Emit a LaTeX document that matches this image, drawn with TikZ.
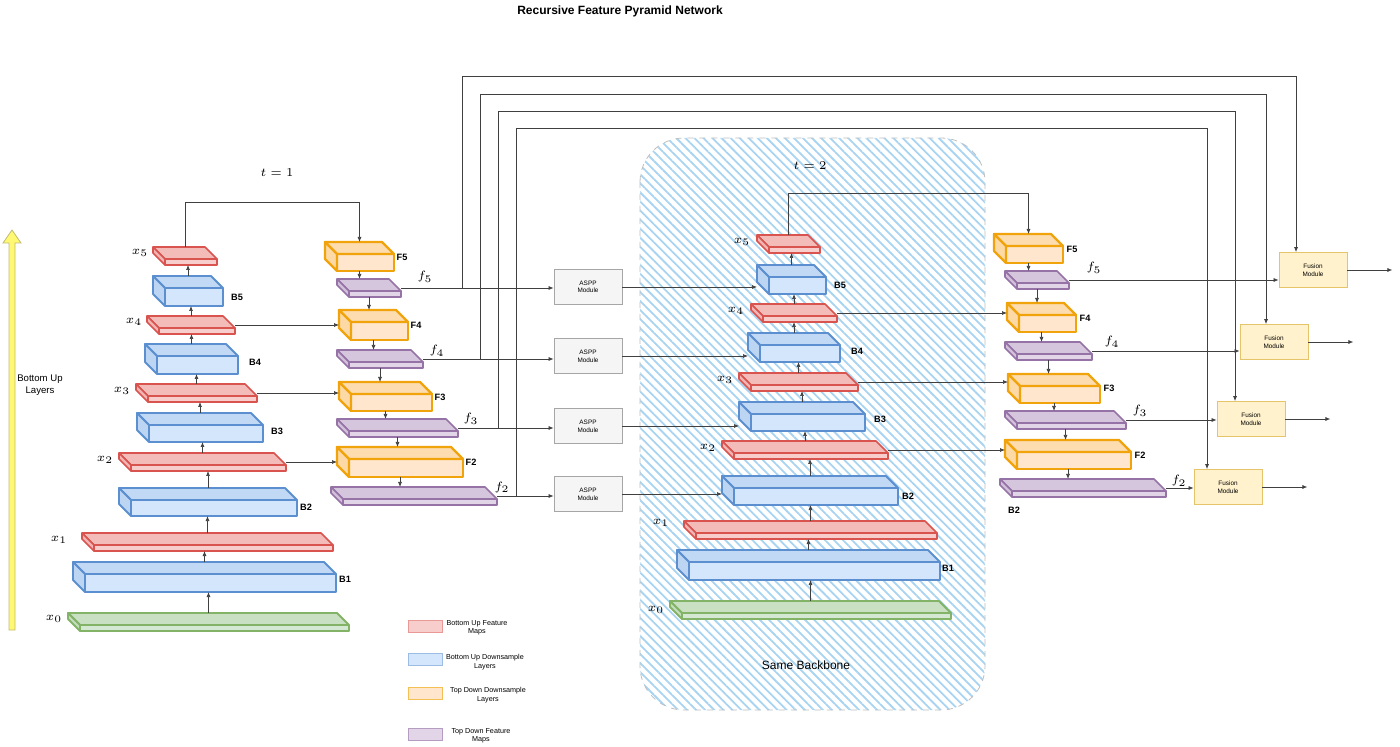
\documentclass[tikz,border=0pt]{standalone}
\usepackage{fontspec}
\setmainfont{Liberation Sans}
\usetikzlibrary{patterns.meta,arrows.meta}
\definecolor{rF}{HTML}{F8CECC}\definecolor{rD}{HTML}{D9534F}
\definecolor{bF}{HTML}{D4E6FC}\definecolor{bD}{HTML}{5B8FD0}
\definecolor{oF}{HTML}{FFE6CC}\definecolor{oD}{HTML}{F0A30A}
\definecolor{pF}{HTML}{E1D5E7}\definecolor{pD}{HTML}{9673A6}
\definecolor{gF}{HTML}{D5E8D4}\definecolor{gD}{HTML}{82B366}
\definecolor{yF}{HTML}{FFF2CC}\definecolor{yD}{HTML}{E6C56A}
\definecolor{hatch}{HTML}{A8D4F2}
\newcommand\cub[9]{%
  \begin{scope}[line width=#9,draw=#8,line join=round]
  \filldraw[fill=#7] (#2,#3) rectangle (#2+#4,#3+#5);
  \filldraw[fill=#7!85!#8] (#2,#3) -- (#2-#6,#3-#6) -- (#2+#4-#6,#3-#6) -- (#2+#4,#3) -- cycle;
  \filldraw[fill=#7!80!#8] (#2,#3) -- (#2-#6,#3-#6) -- (#2-#6,#3+#5-#6) -- (#2,#3+#5) -- cycle;
  \end{scope}
  \pgfmathsetmacro\cw{(#4+#6)*0.5}\pgfmathsetmacro\ch{(#5+#6)*0.5}%
  \node[inner sep=0,outer sep=0,minimum width=\cw pt,minimum height=\ch pt,anchor=north west] (#1) at (#2-#6,#3-#6) {};}
\newcommand\red[5]{\cub{#1}{#2}{#3}{#4}{#5}{12}{rF}{rD}{0.8pt}}
\newcommand\blu[5]{\cub{#1}{#2}{#3}{#4}{#5}{12}{bF}{bD}{0.9pt}}
\newcommand\ora[5]{\cub{#1}{#2}{#3}{#4}{#5}{12}{oF}{oD}{1.1pt}}
\newcommand\pur[5]{\cub{#1}{#2}{#3}{#4}{#5}{12}{pF}{pD}{0.8pt}}
\begin{document}
\begin{tikzpicture}[x=0.5pt,y=-0.5pt,
  arr/.style={-{Latex[length=2.5pt,width=2pt]},line width=0.35pt,draw=black!75},
  ln/.style={line width=0.35pt,draw=black!75},
  mlab/.style={font=\fontsize{6}{7}\selectfont,inner sep=0},
  blab/.style={font=\fontsize{4.6}{5}\selectfont\bfseries,inner sep=0},
  mod/.style={minimum width=34pt,minimum height=17.5pt,inner sep=0,align=center,font=\fontsize{3.2}{3.8}\selectfont,line width=0.4pt},
  aspp/.style={mod,fill=black!4,draw=black!35},
  fus/.style={mod,fill=yF,draw=yD},
  leg/.style={minimum width=17pt,minimum height=6pt,inner sep=0,line width=0.4pt},
  legt/.style={font=\fontsize{3.6}{4.2}\selectfont,align=center,inner sep=0}]
\useasboundingbox (0,0) rectangle (1400,747);
% hatched backbone region
\path[pattern={Lines[angle=-45,distance=3.2pt,line width=0.9pt]},pattern color=hatch,rounded corners=22pt] (640,138) rectangle (985,710);
\draw[rounded corners=22pt,draw=black!25,dashed,line width=0.4pt] (640,138) rectangle (985,710);
% texts
\node[font=\fontsize{6}{7}\selectfont\bfseries,inner sep=0] (title) at (620,11) {Recursive Feature Pyramid Network};
\node[mlab] (t1) at (277,173) {$t=1$};
\node[mlab] (t2) at (810,166) {$t=2$};
\node[font=\fontsize{6}{7}\selectfont,inner sep=0] (same) at (806,665) {Same Backbone};
\node[font=\fontsize{4.8}{5.8}\selectfont,align=center,inner sep=0] (bul) at (40,385) {Bottom Up\\Layers};
% yellow arrow
\filldraw[fill=yellow!55,draw=yellow!60!black!70,line width=0.4pt] (9,630) -- (9,243) -- (3,243) -- (12,230) -- (21,243) -- (15,243) -- (15,630) -- cycle;
% ---- t=1 bottom-up
\red{x5L}{165}{259}{52}{6}
\blu{B5L}{165}{288}{58}{18}
\red{x4L}{159}{328}{76}{6}
\blu{B4L}{157}{356}{81}{18}
\red{x3L}{148}{396}{109}{6}
\blu{B3L}{149}{425}{114}{17}
\red{x2L}{131}{465}{155}{6}
\blu{B2L}{131}{500}{166}{16}
\red{x1L}{94}{545}{239}{6}
\blu{B1L}{85}{574}{251}{18}
\cub{x0L}{80}{625}{269}{6}{12}{gF}{gD}{0.9pt}
% t=1 top-down
\ora{F5L}{337}{254}{57}{17}
\pur{f5L}{349}{291}{52}{6}
\ora{F4L}{351}{322}{57}{18}
\pur{f4L}{349}{362}{74}{6}
\ora{F3L}{351}{394}{81}{17}
\pur{f3L}{349}{431}{109}{6}
\ora{F2L}{349}{459}{114}{18}
\pur{f2L}{343}{499}{154}{6}
% ---- t=2 bottom-up
\red{x5R}{769}{247}{51}{6}
\blu{B5R}{769}{277}{57}{17}
\red{x4R}{763}{316}{74}{6}
\blu{B4R}{760}{345}{80}{17}
\red{x3R}{751}{385}{107}{6}
\blu{B3R}{751}{414}{114}{17}
\red{x2R}{734}{453}{154}{6}
\blu{B2R}{734}{488}{164}{17}
\red{x1R}{696}{533}{241}{6}
\blu{B1R}{689}{562}{251}{18}
\cub{x0R}{682}{613}{269}{6}{12}{gF}{gD}{0.9pt}
% t=2 top-down
\ora{F5R}{1006}{246}{57}{17}
\pur{f5R}{1017}{283}{52}{6}
\ora{F4R}{1019}{315}{57}{17}
\pur{f4R}{1017}{354}{75}{6}
\ora{F3R}{1020}{386}{80}{17}
\pur{f3R}{1017}{423}{109}{6}
\ora{F2R}{1017}{452}{114}{17}
\pur{f2R}{1012}{491}{154}{6}
% labels
\foreach \n/\t/\x/\y in {lx5L/5/140/253,lx4L/4/134/322,lx3L/3/122/391,lx2L/2/105/460,lx1L/1/59/540,lx0L/0/54/619,
  lx5R/5/742/242,lx4R/4/736/311,lx3R/3/725/380,lx2R/2/708/448,lx1R/1/661/523,lx0R/0/656/610}
  \node[mlab] (\n) at (\x,\y) {$x_{\t}$};
\foreach \n/\t/\x/\y in {lf5L/5/425/277,lf4L/4/437/351,lf3L/3/471/419,lf2L/2/502/487,
  lf5R/5/1094/268,lf4R/4/1112/342,lf3R/3/1140/411,lf2R/2/1179/481}
  \node[mlab] (\n) at (\x,\y) {$f_{\t}$};
\foreach \n/\t/\x/\y in {lB5L/B5/237/297,lB4L/B4/255/362,lB3L/B3/277/431,lB2L/B2/306/507,lB1L/B1/345/579,
  lF5L/F5/402/257,lF4L/F4/416/325,lF3L/F3/440/397,lF2L/F2/471/462,
  lB5R/B5/840/285,lB4R/B4/857/351,lB3R/B3/880/419,lB2R/B2/908/496,lB1R/B1/948/568,
  lF5R/F5/1072/249,lF4R/F4/1085/318,lF3R/F3/1109/388,lF2R/F2/1140/455,lBx/B2/1014/510}
  \node[blab] (\n) at (\x,\y) {\t};
% modules
\node[aspp] (A5) at (588,287) {ASPP\\Module};
\node[aspp] (A4) at (588,356) {ASPP\\Module};
\node[aspp] (A3) at (588,426) {ASPP\\Module};
\node[aspp] (A2) at (588,494) {ASPP\\Module};
\node[fus] (U5) at (1313,270) {Fusion\\Module};
\node[fus] (U4) at (1274,342) {Fusion\\Module};
\node[fus] (U3) at (1251,419) {Fusion\\Module};
\node[fus] (U2) at (1228,487) {Fusion\\Module};
% up arrows
\foreach \a/\b in {x0L/B1L,B1L/x1L,x1L/B2L,B2L/x2L,x2L/B3L,B3L/x3L,x3L/B4L,B4L/x4L,x4L/B5L,B5L/x5L,
  x0R/B1R,B1R/x1R,x1R/B2R,B2R/x2R,x2R/B3R,B3R/x3R,x3R/B4R,B4R/x4R,x4R/B5R,B5R/x5R}
  \draw[arr] (\a.north) -- (\a.north |- \b.south);
% down arrows
\foreach \a/\b in {F5L/f5L,f5L/F4L,F4L/f4L,f4L/F3L,F3L/f3L,f3L/F2L,F2L/f2L,
  F5R/f5R,f5R/F4R,F4R/f4R,f4R/F3R,F3R/f3R,f3R/F2R,F2R/f2R}
  \draw[arr] (\a.south) -- (\a.south |- \b.north);
% top connectors
\coordinate (k1) at (0,202);
\coordinate (k2) at (0,193);
\draw[arr] (x5L.north) -- (x5L.north |- k1) -| (F5L.north);
\draw[arr] (x5R.north) -- (x5R.north |- k2) -| (F5R.north);
% laterals
\foreach \a/\b in {x4L/F4L,x3L/F3L,x2L/F2L,x4R/F4R,x3R/F3R,x2R/F2R,
  f5L/A5,f4L/A4,f3L/A3,f2L/A2,f5R/U5,f4R/U4,f3R/U3,f2R/U2}
  \draw[arr] (\a.east) -- (\a.east -| \b.west);
\foreach \a/\b in {A5/B5R,A4/B4R,A3/B3R,A2/B2R}
  \draw[arr] (\a.east) -- (\a.east -| \b.west);
\foreach \a in {U5,U4,U3,U2}
  \draw[arr] (\a.east) -- ++(45,0);
% feedback loops
\coordinate (c5) at (462,76);  \coordinate (d5) at (1296,76);
\coordinate (c4) at (480,94);  \coordinate (d4) at (1266,94);
\coordinate (c3) at (498,111); \coordinate (d3) at (1235,111);
\coordinate (c2) at (516,128); \coordinate (d2) at (1207,128);
\draw[arr] (c5 |- f5L.east) -- (c5) -- (d5) -- (d5 |- U5.north);
\draw[arr] (c4 |- f4L.east) -- (c4) -- (d4) -- (d4 |- U4.north);
\draw[arr] (c3 |- f3L.east) -- (c3) -- (d3) -- (d3 |- U3.north);
\draw[arr] (c2 |- f2L.east) -- (c2) -- (d2) -- (d2 |- U2.north);
% legend
\node[leg,fill=rF,draw=rD!60] (g1) at (425,626) {};
\node[leg,fill=bF,draw=bD!60] (g2) at (425,659) {};
\node[leg,fill=oF,draw=oD!70] (g3) at (425,693) {};
\node[leg,fill=pF,draw=pD!70] (g4) at (425,734) {};
\node[legt] (g1t) at (477,628) {Bottom Up Feature\\Maps};
\node[legt] (g2t) at (485,662) {Bottom Up Downsample\\Layers};
\node[legt] (g3t) at (488,695) {Top Down Downsample\\Layers};
\node[legt] (g4t) at (481,736) {Top Down Feature\\Maps};
\end{tikzpicture}
\end{document}
